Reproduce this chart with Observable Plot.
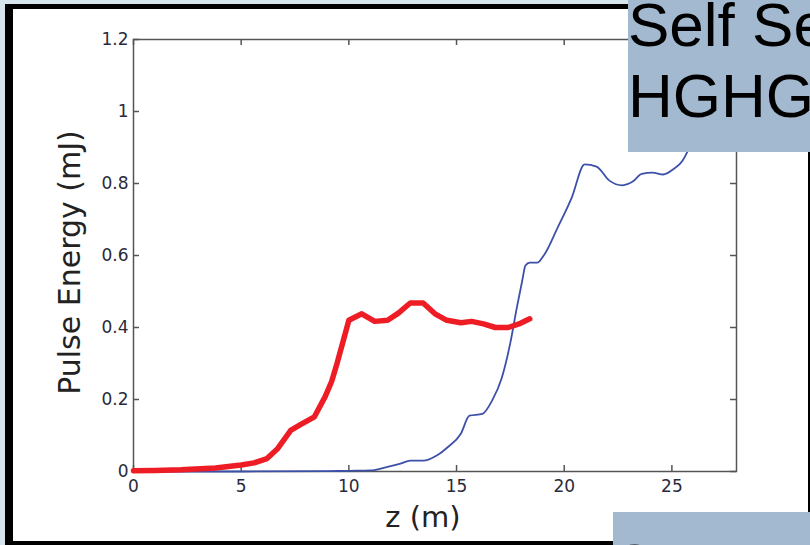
<!DOCTYPE html>
<html>
<head>
<meta charset="utf-8">
<script src="https://cdn.jsdelivr.net/npm/d3@7"></script>
<script src="https://cdn.jsdelivr.net/npm/@observablehq/plot@0.6"></script>
<style>
  html, body { margin: 0; padding: 0; }
  body { width: 810px; height: 545px; position: relative; overflow: hidden; background: #d5e5eb; }
  #frame { position: absolute; left: 5px; top: 4px; width: 805px; height: 541px; box-sizing: border-box;
           background: #fff; border-left: 8px solid #000; border-top: 5px solid #000;
           border-right: 2px solid #000; border-bottom: 4px solid #000; }
  #chart { position: absolute; left: 0; top: 0; }
  .box { position: absolute; background: #a3b9cf; overflow: hidden; font-family: "Liberation Sans", Arial, sans-serif;
         font-size: 62px; line-height: 71px; color: #000; white-space: nowrap; }
  .box span { position: absolute; left: 0; }
</style>
</head>
<body>
<div id="frame"></div>
<div id="chart"></div>
<div class="box" style="left:628px; top:0; width:182px; height:152px;"><span style="top:-11px;">Self Se<br>HGHG</span></div>
<div class="box" style="left:613px; top:512px; width:197px; height:33px;"><span style="top:18px; left:-2px;">C</span></div>
<script>
// Data
const redZ = [0, 1, 2.2, 3.8, 5.0, 5.6, 6.2, 6.7, 7.3, 7.75, 8.4, 8.9, 9.2, 9.45, 10.0, 10.6, 11.2, 11.8, 12.3, 12.85, 13.45, 14.0, 14.55, 15.2, 15.7, 16.25, 16.8, 17.4, 17.9, 18.4];
const redE = [0.002, 0.003, 0.005, 0.01, 0.018, 0.024, 0.036, 0.064, 0.114, 0.13, 0.152, 0.208, 0.25, 0.30, 0.42, 0.438, 0.417, 0.42, 0.44, 0.468, 0.468, 0.438, 0.42, 0.413, 0.417, 0.41, 0.40, 0.40, 0.41, 0.424];

const blueZ = [0, 5, 9, 10, 11, 11.8, 12.4, 12.85, 13.45, 14.1, 14.6, 15.2, 15.6, 16.2, 16.65, 17.1, 17.5, 17.8, 18.05, 18.2, 18.4, 18.75, 19.05, 19.7, 20.35, 20.95, 21.5, 22.1, 22.7, 23.2, 23.6, 24.1, 24.6, 25.05, 25.5, 25.7, 26.1];
const blueE = [0, 0, 0.001, 0.002, 0.003, 0.013, 0.022, 0.03, 0.03, 0.045, 0.068, 0.105, 0.155, 0.16, 0.197, 0.26, 0.358, 0.455, 0.53, 0.572, 0.58, 0.58, 0.60, 0.678, 0.761, 0.853, 0.847, 0.808, 0.795, 0.806, 0.827, 0.83, 0.825, 0.839, 0.864, 0.886, 0.95];

const xTicks = [0, 5, 10, 15, 20, 25];
const yTicks = [0, 0.2, 0.4, 0.6, 0.8, 1, 1.2];
const xLabel = "z (m)";
const yLabel = "Pulse Energy (mJ)";

const red = redZ.map((z, i) => ({z, e: redE[i]}));
const blue = blueZ.map((z, i) => ({z, e: blueE[i]}));

const W = 810, H = 545;
const mL = 133, mR = W - 736, mT = 39, mB = H - 471;
const fw = W - mL - mR, fh = H - mT - mB;
const tk = 6;
const axisColor = "#555";
const textColor = "#2a2a3a";

const chart = Plot.plot({
  width: W, height: H,
  marginLeft: mL, marginRight: mR, marginTop: mT, marginBottom: mB,
  style: {background: "transparent", fontFamily: "'DejaVu Sans', Verdana, sans-serif", fontSize: "17px", color: textColor},
  x: {domain: [0, 28]},
  y: {domain: [0, 1.2]},
  marks: [
    Plot.frame({stroke: axisColor, strokeWidth: 1.5}),
    // inward ticks on all four sides
    Plot.tickY(yTicks, {y: d => d, insetRight: fw - tk, stroke: axisColor, strokeWidth: 1.5}),
    Plot.tickY(yTicks, {y: d => d, insetLeft: fw - tk, stroke: axisColor, strokeWidth: 1.5}),
    Plot.tickX(xTicks, {x: d => d, insetTop: fh - tk, stroke: axisColor, strokeWidth: 1.5}),
    Plot.tickX(xTicks, {x: d => d, insetBottom: fh - tk, stroke: axisColor, strokeWidth: 1.5}),
    Plot.axisY({ticks: yTicks, tickSize: 0, tickPadding: 5, label: null, tickFormat: d => String(d), fill: textColor}),
    Plot.axisX({ticks: xTicks, tickSize: 0, tickPadding: 8, label: null, tickFormat: d => String(d), fill: textColor}),
    Plot.text([yLabel], {text: d => d, frameAnchor: "left", textAnchor: "middle", dx: -63, dy: 7, rotate: -90, lineAnchor: "middle", fontSize: 30, fill: "#222"}),
    Plot.text([xLabel], {text: d => d, frameAnchor: "bottom", textAnchor: "middle", dx: -12, dy: 46, lineAnchor: "middle", fontSize: 29, fill: "#222"}),
    Plot.line(blue, {x: "z", y: "e", curve: "monotone-x", stroke: "#3d50a8", strokeWidth: 1.8, strokeLinejoin: "round"}),
    Plot.line(red, {x: "z", y: "e", stroke: "#ee1d25", strokeWidth: 5.5, strokeLinejoin: "round", strokeLinecap: "round"})
  ]
});
document.getElementById("chart").appendChild(chart);
</script>
</body>
</html>
